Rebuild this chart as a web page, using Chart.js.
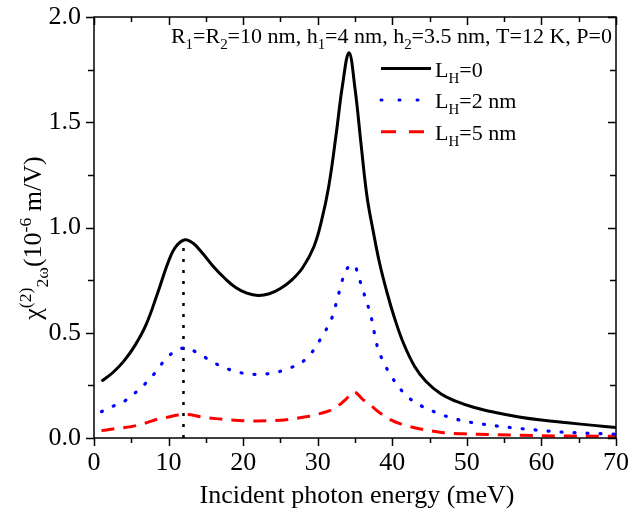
<!DOCTYPE html>
<html>
<head>
<meta charset="utf-8">
<script src="https://cdn.jsdelivr.net/npm/chart.js@4/dist/chart.umd.min.js"></script>
<style>
    html, body { margin: 0; padding: 0; background: #fff; }
    #wrap { width: 630px; height: 521px; }
</style>
</head>
<body>
<div id="wrap"><canvas id="chart" width="630" height="521"></canvas></div>
<script>
// Data
const energyL0 = [1, 2.5, 4, 5.5, 7, 8.5, 10, 11, 12.2, 13.3, 14.5, 16, 17.5, 19, 20.5, 22, 23.5, 25, 26.5, 28, 29.5, 30.5, 31.5, 32.5, 33.3, 34.2, 35, 35.8, 36.6, 37.4, 38.3, 39.3, 40.3, 41.5, 43, 44.5, 46.5, 48.5, 51, 54, 57, 60, 63.5, 67, 70];
const chiL0 = [0.27, 0.31, 0.365, 0.44, 0.54, 0.685, 0.84, 0.91, 0.942, 0.925, 0.88, 0.815, 0.76, 0.715, 0.688, 0.677, 0.685, 0.71, 0.75, 0.81, 0.91, 1.03, 1.20, 1.45, 1.67, 1.83, 1.66, 1.40, 1.15, 0.99, 0.83, 0.69, 0.57, 0.45, 0.34, 0.27, 0.21, 0.175, 0.145, 0.12, 0.10, 0.085, 0.072, 0.06, 0.05];

const energyL2 = [1, 2.5, 4.3, 5.7, 7, 8.2, 9.2, 10.2, 11, 12.2, 13, 14.1, 15.7, 17.2, 18.8, 20.3, 21.9, 23.3, 24.6, 26, 27.7, 29.3, 30.2, 31.1, 32, 32.6, 33.7, 34.85, 35.7, 36.4, 37.1, 38, 38.7, 39.5, 40.5, 41.8, 43.5, 45.6, 47.5, 50, 54, 58, 62, 66, 70];
const chiL2 = [0.125, 0.15, 0.18, 0.22, 0.263, 0.31, 0.358, 0.395, 0.415, 0.428, 0.42, 0.40, 0.366, 0.338, 0.318, 0.306, 0.302, 0.305, 0.313, 0.33, 0.355, 0.41, 0.46, 0.513, 0.58, 0.656, 0.79, 0.822, 0.743, 0.664, 0.584, 0.434, 0.37, 0.315, 0.26, 0.204, 0.16, 0.125, 0.10, 0.078, 0.057, 0.042, 0.03, 0.023, 0.018];

const energyL5 = [1, 3, 5, 7, 8.5, 10, 11.2, 12.5, 14.3, 16.3, 18.3, 21.9, 25.5, 28.4, 30.4, 31.6, 32.6, 33.8, 34.85, 36, 37.3, 38.5, 39.8, 41, 42.4, 44.5, 46.9, 49.5, 52.7, 57, 62, 66, 70];
const chiL5 = [0.035, 0.045, 0.054, 0.072, 0.089, 0.10, 0.109, 0.112, 0.101, 0.092, 0.086, 0.081, 0.086, 0.101, 0.117, 0.13, 0.149, 0.185, 0.22, 0.185, 0.149, 0.115, 0.086, 0.068, 0.054, 0.038, 0.025, 0.02, 0.017, 0.013, 0.01, 0.009, 0.008];

// vertical marker at the first peak
const markerX = [12, 12];
const markerY = [0, 0.942];

const xTicks = [0, 10, 20, 30, 40, 50, 60, 70];
const yTicks = [0.0, 0.5, 1.0, 1.5, 2.0];

const SERIF = 'Liberation Serif';

const toPoints = (xs, ys) => xs.map((x, i) => ({ x: x, y: ys[i] }));

// Draw text made of parts, some of them sub/superscript
function richWidth(ctx, parts, size) {
    let w = 0;
    parts.forEach(p => {
        ctx.font = `${p.s ? size * 0.68 : size}px ${SERIF}`;
        w += ctx.measureText(p.t).width;
    });
    return w;
}

function drawRich(ctx, parts, x, y, size, align) {
    let cx = align === 'right' ? x - richWidth(ctx, parts, size)
        : align === 'center' ? x - richWidth(ctx, parts, size) / 2 : x;
    ctx.textBaseline = 'alphabetic';
    ctx.textAlign = 'left';
    parts.forEach(p => {
        const fs = p.s ? size * 0.68 : size;
        ctx.font = `${fs}px ${SERIF}`;
        let dy = 0;
        if (p.s === 'sub') dy = size * 0.28;
        if (p.s === 'sup') dy = -size * 0.38;
        ctx.fillText(p.t, cx, y + dy);
        cx += ctx.measureText(p.t).width;
    });
}

const legendItems = [
    { label: [{ t: 'L' }, { t: 'H', s: 'sub' }, { t: '=0' }], color: '#000000', dash: [], cap: 'butt' },
    { label: [{ t: 'L' }, { t: 'H', s: 'sub' }, { t: '=2 nm' }], color: '#0000ff', dash: [1, 17], cap: 'round' },
    { label: [{ t: 'L' }, { t: 'H', s: 'sub' }, { t: '=5 nm' }], color: '#ff0000', dash: [15, 13], cap: 'butt' }
];

// Frame, ticks, titles, legend and annotation
const framePlugin = {
    id: 'frame',
    afterDraw(chart) {
        const ctx = chart.ctx;
        const a = chart.chartArea;
        const xs = chart.scales.x, ys = chart.scales.y;
        ctx.save();
        ctx.strokeStyle = '#000';
        ctx.lineWidth = 1.5;
        ctx.strokeRect(a.left, a.top, a.right - a.left, a.bottom - a.top);

        // x ticks every 5: outward at bottom, inward at top
        for (let v = 0; v <= 70; v += 5) {
            const px = Math.round(xs.getPixelForValue(v)) + 0.5;
            const len = v % 10 === 0 ? 8 : 5;
            ctx.beginPath();
            ctx.moveTo(px, a.bottom); ctx.lineTo(px, a.bottom + len);
            ctx.moveTo(px, a.top); ctx.lineTo(px, a.top + len);
            ctx.stroke();
        }
        // y ticks every 0.25: outward at left, inward at right
        for (let v = 0; v <= 2.0001; v += 0.25) {
            const py = Math.round(ys.getPixelForValue(v)) + 0.5;
            const len = Math.abs(v * 2 - Math.round(v * 2)) < 1e-6 ? 8 : 6;
            ctx.beginPath();
            ctx.moveTo(a.left, py); ctx.lineTo(a.left - len, py);
            ctx.moveTo(a.right, py); ctx.lineTo(a.right - len, py);
            ctx.stroke();
        }

        ctx.fillStyle = '#000';
        // x title
        ctx.font = `26px ${SERIF}`;
        ctx.textAlign = 'center';
        ctx.textBaseline = 'alphabetic';
        ctx.fillText('Incident photon energy (meV)', 357, 503);

        // y title, rotated
        ctx.save();
        ctx.translate(41, 238);
        ctx.rotate(-Math.PI / 2);
        drawRich(ctx, [
            { t: 'χ' }, { t: '(2)', s: 'sup' }, { t: '2ω', s: 'sub' },
            { t: '(10' }, { t: '-6', s: 'sup' }, { t: ' m/V)' }
        ], 0, 0, 26, 'center');
        ctx.restore();

        // annotation
        drawRich(ctx, [
            { t: 'R' }, { t: '1', s: 'sub' }, { t: '=R' }, { t: '2', s: 'sub' },
            { t: '=10 nm, h' }, { t: '1', s: 'sub' }, { t: '=4 nm, h' }, { t: '2', s: 'sub' },
            { t: '=3.5 nm, T=12 K, P=0' }
        ], 612, 43, 22, 'right');

        // legend
        legendItems.forEach((it, i) => {
            const y = 68.5 + i * 31.6;
            ctx.beginPath();
            ctx.strokeStyle = it.color;
            ctx.lineWidth = 3;
            ctx.lineCap = it.cap;
            ctx.setLineDash(it.dash);
            ctx.moveTo(381, y); ctx.lineTo(431, y);
            ctx.stroke();
            ctx.setLineDash([]);
            ctx.lineCap = 'butt';
            ctx.fillStyle = '#000';
            drawRich(ctx, it.label, 435, y + 8, 22, 'left');
        });
        ctx.restore();
    }
};

const chart = new Chart(document.getElementById('chart'), {
    type: 'line',
    data: {
        datasets: [
            {
                label: 'LH=0',
                data: toPoints(energyL0, chiL0),
                borderColor: '#000000',
                borderWidth: 3,
                tension: 0.4
            },
            {
                label: 'LH=2 nm',
                data: toPoints(energyL2, chiL2),
                borderColor: '#0000ff',
                borderWidth: 3.2,
                borderDash: [1, 12],
                borderCapStyle: 'round',
                cubicInterpolationMode: 'monotone'
            },
            {
                label: 'LH=5 nm',
                data: toPoints(energyL5, chiL5),
                borderColor: '#ff0000',
                borderWidth: 3,
                borderDash: [13, 9],
                cubicInterpolationMode: 'monotone'
            },
            {
                label: 'marker',
                data: toPoints(markerX, markerY),
                borderColor: '#000000',
                borderWidth: 2.5,
                borderDash: [3, 8]
            }
        ]
    },
    options: {
        responsive: false,
        animation: false,
        elements: { point: { radius: 0 } },
        layout: { padding: { top: 17, right: 14, left: 0, bottom: 0 } },
        plugins: { legend: { display: false }, tooltip: { enabled: false } },
        scales: {
            x: {
                type: 'linear',
                min: 0, max: 70,
                afterBuildTicks: s => { s.ticks = xTicks.map(v => ({ value: v })); },
                afterFit: s => { s.height = 83; s.paddingLeft = 0; s.paddingRight = 0; },
                grid: { display: false, drawTicks: false },
                border: { display: false },
                ticks: { color: '#000', padding: 10, font: { family: SERIF, size: 26 } }
            },
            y: {
                min: 0, max: 2,
                afterBuildTicks: s => { s.ticks = yTicks.map(v => ({ value: v })); },
                afterFit: s => { s.width = 94; s.paddingTop = 0; s.paddingBottom = 0; },
                grid: { display: false, drawTicks: false },
                border: { display: false },
                ticks: {
                    color: '#000', padding: 13, font: { family: SERIF, size: 26 },
                    callback: v => Number(v).toFixed(1)
                }
            }
        }
    },
    plugins: [framePlugin]
});
</script>
</body>
</html>
